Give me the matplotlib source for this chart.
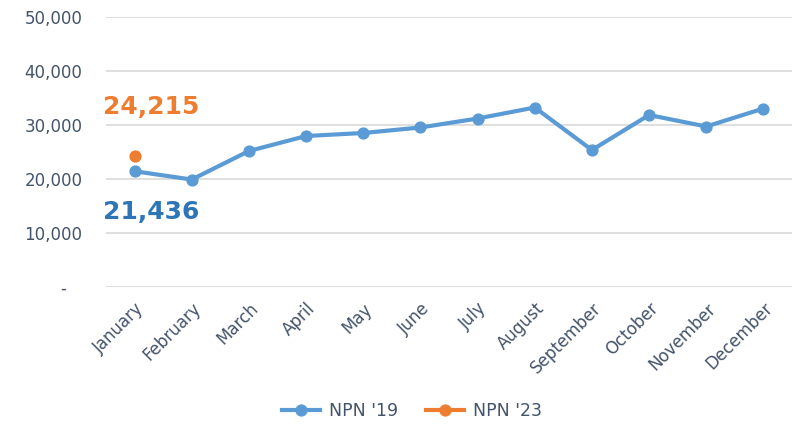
import matplotlib
matplotlib.use("Agg")
import matplotlib.pyplot as plt
from matplotlib.ticker import FuncFormatter

months = ["January", "February", "March", "April", "May", "June", "July",
          "August", "September", "October", "November", "December"]
npn19 = [21436, 19900, 25180, 27960, 28520, 29540, 31200, 33240, 25370, 31850, 29720, 33050]
npn23 = [24215]
yticks = [0, 10000, 20000, 30000, 40000, 50000]

blue = "#5B9BD5"
orange = "#ED7D31"
txt = "#44546A"

plt.rcParams['font.family'] = ['DejaVu Sans']

fig = plt.figure(figsize=(7.92, 4.26), dpi=100)
ax = fig.add_axes([106/792, 1 - 287/426, (792 - 106)/792, (287 - 17)/426])

x = list(range(len(months)))
ax.plot(x, npn19, color=blue, lw=3.0, marker='o', ms=7.8, label="NPN '19", zorder=3)
ax.plot(x[:len(npn23)], npn23, color=orange, lw=3.0, marker='o', ms=7.8, label="NPN '23", zorder=3)

ax.set_xlim(-0.5, 11.5)
ax.set_ylim(0, 50000)
ax.set_yticks(yticks)
ax.yaxis.set_major_formatter(FuncFormatter(lambda v, p: "-   " if v == 0 else f"{int(v):,}"))
ax.set_xticks(x)
ax.set_xticklabels(months, rotation=45, ha='right', rotation_mode='anchor')
ax.tick_params(axis='both', length=0, colors=txt)
ax.tick_params(axis='y', pad=17, labelsize=12)
ax.tick_params(axis='x', pad=9, labelsize=12)
ax.grid(axis='y', color='#D9D9D9', lw=1.2)
ax.set_axisbelow(True)
for s in ax.spines.values():
    s.set_visible(False)

ax.annotate(f"{npn23[0]:,}", xy=(x[0], npn23[0]), xytext=(-0.55, 33300),
            color=orange, fontsize=18, fontweight='bold', ha='left', va='center')
ax.annotate(f"{npn19[0]:,}", xy=(x[0], npn19[0]), xytext=(-0.55, 13800),
            color="#2E75B6", fontsize=18, fontweight='bold', ha='left', va='center')

fig.legend(loc='center', bbox_to_anchor=(0.52, 0.035), ncol=2, frameon=False,
           fontsize=12.5, labelcolor=txt, handlelength=2.2, handletextpad=0.5,
           columnspacing=1.6)

fig.savefig("out.png", dpi=100)
